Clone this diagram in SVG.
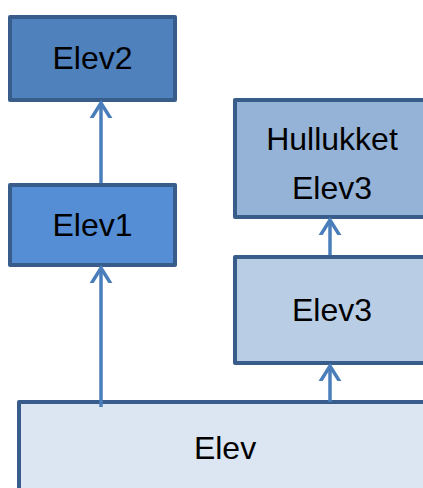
<svg xmlns="http://www.w3.org/2000/svg" width="423" height="488" viewBox="0 0 423 488">
<style>
.box{stroke:#385d8a;stroke-width:4;stroke-linejoin:round}
.t{font-family:"Liberation Sans",Arial,sans-serif;font-size:32px;fill:#000;text-anchor:middle}
.c{stroke:#4a7ebb;stroke-width:3.5;fill:none}
</style>
<defs>
<marker id="ah" markerUnits="userSpaceOnUse" markerWidth="30" markerHeight="30" viewBox="-15 -15 30 30" refX="0" refY="0" orient="auto">
<path d="M-16,-10 L0,0 L-16,10" fill="none" stroke="#4a7ebb" stroke-width="3.5" stroke-linecap="butt"/>
</marker>
</defs>
<g id="elev2">
<rect class="box" x="10" y="17" width="165" height="83" fill="#4f81bd"/>
<text class="t" x="92.5" y="69">Elev2</text>
</g>
<g id="elev1">
<rect class="box" x="10" y="185" width="165" height="80" fill="#558ed5"/>
<text class="t" x="92.5" y="236">Elev1</text>
</g>
<g id="hullukket">
<rect class="box" x="235" y="100" width="200" height="117" fill="#95b3d7"/>
<text class="t" x="332" y="150">Hullukket</text>
<text class="t" x="332" y="199">Elev3</text>
</g>
<g id="elev3">
<rect class="box" x="235" y="257" width="200" height="106" fill="#b9cde5"/>
<text class="t" x="332" y="321">Elev3</text>
</g>
<g id="elev">
<rect class="box" x="19" y="402" width="420" height="100" fill="#dce6f2"/>
<text class="t" x="225" y="459">Elev</text>
</g>
<g id="connectors">
<path class="c" d="M101,407 L101,268" marker-end="url(#ah)"/>
<path class="c" d="M101,183 L101,103" marker-end="url(#ah)"/>
<path class="c" d="M330,402 L330,366" marker-end="url(#ah)"/>
<path class="c" d="M330,255 L330,220" marker-end="url(#ah)"/>
</g>
</svg>
